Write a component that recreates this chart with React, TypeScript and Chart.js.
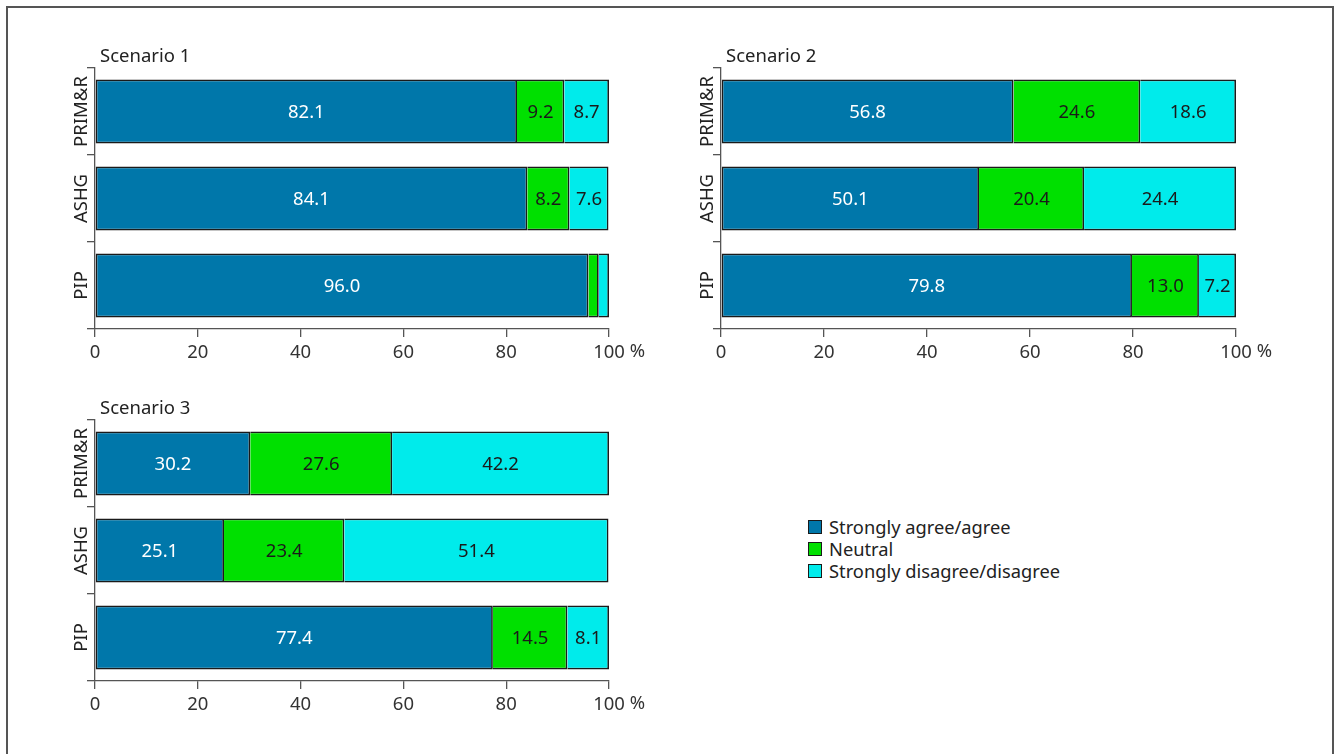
import React, { useEffect, useRef } from "react";
import { Chart, registerables } from "chart.js";

Chart.register(...registerables);

// ---------- data ----------
const groups = ["PRIM&R", "ASHG", "PIP"];
const seriesNames = ["Strongly agree/agree", "Neutral", "Strongly disagree/disagree"];
const seriesColors = ["#0077aa", "#00e000", "#00ebeb"];
const labelColors = ["#ffffff", "#1a1a1a", "#1a1a1a"];
const xTickMax = 100;
const xTickStep = 20;

const s1Agree = [82.1, 84.1, 96.0];
const s1Neutral = [9.2, 8.2, 2.0];
const s1Disagree = [8.7, 7.6, 2.0];
const s1AgreeLabels = ["82.1", "84.1", "96.0"];
const s1NeutralLabels = ["9.2", "8.2", ""];
const s1DisagreeLabels = ["8.7", "7.6", ""];

const s2Agree = [56.8, 50.1, 79.8];
const s2Neutral = [24.6, 20.4, 13.0];
const s2Disagree = [18.6, 29.5, 7.2];
const s2AgreeLabels = ["56.8", "50.1", "79.8"];
const s2NeutralLabels = ["24.6", "20.4", "13.0"];
const s2DisagreeLabels = ["18.6", "24.4", "7.2"];

const s3Agree = [30.2, 25.1, 77.4];
const s3Neutral = [27.6, 23.4, 14.5];
const s3Disagree = [42.2, 51.4, 8.1];
const s3AgreeLabels = ["30.2", "25.1", "77.4"];
const s3NeutralLabels = ["27.6", "23.4", "14.5"];
const s3DisagreeLabels = ["42.2", "51.4", "8.1"];

const FAMILY = "'Noto Sans', 'Open Sans', sans-serif";
const FS = 18.5;
const TEXT = "#222222";
const AXIS = "#555555";

type Panel = {
  title: string;
  values: number[][];
  labels: string[][];
  left: number;
  top: number;
  width: number;
};

const panels: Panel[] = [
  { title: "Scenario 1", values: [s1Agree, s1Neutral, s1Disagree], labels: [s1AgreeLabels, s1NeutralLabels, s1DisagreeLabels], left: 40, top: 30, width: 610 },
  { title: "Scenario 2", values: [s2Agree, s2Neutral, s2Disagree], labels: [s2AgreeLabels, s2NeutralLabels, s2DisagreeLabels], left: 666, top: 30, width: 611 },
  { title: "Scenario 3", values: [s3Agree, s3Neutral, s3Disagree], labels: [s3AgreeLabels, s3NeutralLabels, s3DisagreeLabels], left: 40, top: 382, width: 610 },
];

const CH = 340;

function PanelChart({ p }: { p: Panel }) {
  const ref = useRef<HTMLCanvasElement | null>(null);
  useEffect(() => {
    if (!ref.current) return;
    const font = `${FS}px ${FAMILY}`;
    const plugin = {
      id: "decor",
      afterDatasetsDraw(chart: any) {
        const ctx = chart.ctx as CanvasRenderingContext2D;
        const area = chart.chartArea;
        ctx.save();
        ctx.font = font;
        // segment labels
        chart.data.datasets.forEach((_ds: any, di: number) => {
          const meta = chart.getDatasetMeta(di);
          meta.data.forEach((el: any, i: number) => {
            const text = p.labels[di][i];
            if (!text) return;
            const props = el.getProps(["x", "y", "base"], true);
            ctx.fillStyle = labelColors[di];
            ctx.textAlign = "center";
            ctx.textBaseline = "middle";
            ctx.fillText(text, (props.x + props.base) / 2, props.y + 1);
          });
        });
        // category labels (rotated)
        const ys = chart.scales.y;
        ctx.fillStyle = TEXT;
        groups.forEach((g, i) => {
          const py = ys.getPixelForValue(i);
          ctx.save();
          ctx.translate(area.left - 8, py);
          ctx.rotate(-Math.PI / 2);
          ctx.textAlign = "center";
          ctx.textBaseline = "alphabetic";
          ctx.fillText(g, 0, 0);
          ctx.restore();
        });
        // title
        ctx.textAlign = "left";
        ctx.textBaseline = "middle";
        ctx.fillText(p.title, area.left + 5, area.top - 11);
        // percent sign after last tick
        const xs = chart.scales.x;
        const px = xs.getPixelForValue(xTickMax);
        const w = ctx.measureText(String(xTickMax)).width;
        const sp = ctx.measureText(" ").width;
        ctx.textAlign = "left";
        ctx.textBaseline = "top";
        ctx.fillStyle = "#333333";
        ctx.fillText("%", px + w / 2 + sp, xs.top + 8 + 5);
        ctx.restore();
      },
    };
    const chart = new Chart(ref.current, {
      type: "bar",
      data: {
        labels: groups,
        datasets: p.values.map((vals, di) => ({
          label: seriesNames[di],
          data: vals,
          backgroundColor: seriesColors[di],
          borderColor: "#1a1a1a",
          borderWidth: 1.7,
          borderSkipped: di === 0 ? false : "start",
          barPercentage: 0.735,
          categoryPercentage: 1,
        })) as any,
      },
      options: {
        indexAxis: "y",
        animation: false,
        responsive: false,
        maintainAspectRatio: false,
        layout: { padding: { left: 47, top: 38, right: 41, bottom: 0 } },
        plugins: { legend: { display: false }, tooltip: { enabled: false }, title: { display: false } },
        scales: {
          x: {
            stacked: true,
            min: 0,
            max: xTickMax,
            afterFit: (s: any) => { s.height = 41; },
            ticks: { stepSize: xTickStep, font: { family: FAMILY, size: FS }, color: "#333333", padding: 5, maxRotation: 0, autoSkip: false },
            grid: { drawOnChartArea: false, drawTicks: true, tickLength: 8, color: AXIS, lineWidth: 1.3 },
            border: { display: true, color: AXIS, width: 1.3 },
          },
          y: {
            stacked: true,
            afterFit: (s: any) => { s.width = 8; },
            ticks: { display: false },
            grid: { drawOnChartArea: false, drawTicks: true, tickLength: 8, color: AXIS, lineWidth: 1.3, offset: true },
            border: { display: true, color: AXIS, width: 1.3 },
          },
        },
      } as any,
      plugins: [plugin as any],
    });
    return () => chart.destroy();
  }, [p]);
  return (
    <canvas
      ref={ref}
      width={p.width}
      height={CH}
      style={{ position: "absolute", left: p.left, top: p.top, width: p.width, height: CH }}
    />
  );
}

export default function App() {
  return (
    <div style={{ position: "fixed", left: 0, top: 0, width: 1339, height: 754, overflow: "hidden", background: "#ffffff", fontFamily: FAMILY }}>
      <div style={{ position: "absolute", left: 6, top: 6, width: 1324, height: 800, border: "2px solid #555555" }} />
      {panels.map((p, i) => (
        <PanelChart key={i} p={p} />
      ))}
      <div style={{ position: "absolute", left: 808, top: 516 }}>
        {seriesNames.map((n, i) => (
          <div key={n} style={{ display: "flex", alignItems: "center", height: 22 }}>
            <div style={{ width: 12, height: 12, background: seriesColors[i], border: "1.5px solid #1a1a1a", marginRight: 7 }} />
            <span style={{ fontSize: 18.3, color: TEXT, lineHeight: "22px", whiteSpace: "nowrap" }}>{n}</span>
          </div>
        ))}
      </div>
    </div>
  );
}
